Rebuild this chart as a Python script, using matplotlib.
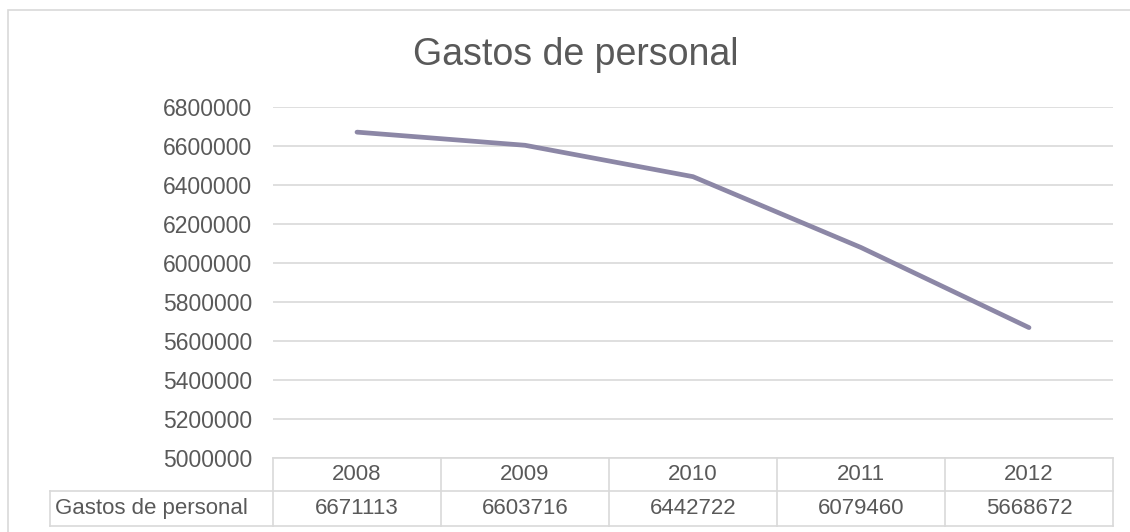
import matplotlib.pyplot as plt
from matplotlib.patches import Rectangle

plt.rcParams['font.family'] = ['Liberation Sans', 'DejaVu Sans']

# data
years = ["2008", "2009", "2010", "2011", "2012"]
gastos = [6671113, 6603716, 6442722, 6079460, 5668672]
serie = "Gastos de personal"
yticks = list(range(5000000, 6800001, 200000))

text_col = "#595959"
grid_col = "#D9D9D9"
line_col = "#8C87A6"

fig = plt.figure(figsize=(11.3, 5.32), dpi=100)

# outer chart border (cropped on right/bottom)
fig.patches.append(Rectangle((8 / 1130, -0.1), 1.2, 1 - 10 / 532 + 0.1,
                             transform=fig.transFigure, fill=False,
                             edgecolor=grid_col, linewidth=1.2))

ax = fig.add_axes([273 / 1130, 1 - 458 / 532, 840 / 1130, 351 / 532])

x = list(range(len(years)))
ax.plot(x, gastos, color=line_col, linewidth=3.4, solid_capstyle="round")

ax.set_xlim(-0.5, len(years) - 0.5)
ax.set_ylim(5000000, 6800000)
ax.set_yticks(yticks)
ax.set_yticklabels([str(v) for v in yticks])
ax.tick_params(axis="y", length=0, pad=15, labelsize=16.5, labelcolor=text_col)
ax.set_xticks([])
ax.grid(axis="y", color=grid_col, linewidth=1.2)
ax.set_axisbelow(True)
for s in ax.spines.values():
    s.set_visible(False)

fig.text(576 / 1130, 1 - 55 / 532, "Gastos de personal", ha="center", va="center",
         fontsize=27, color=text_col)

# data table below the plot
tr = ax.get_xaxis_transform()
y_top = 0.0
y_mid = -(491 - 458) / 351
y_bot = -(526 - 458) / 351
left = -0.5 - (273 - 50) / 168
right = len(years) - 0.5
kw = dict(color=grid_col, linewidth=1.2, transform=tr, clip_on=False)

ax.plot([-0.5, right], [y_top, y_top], **kw)
ax.plot([left, right], [y_mid, y_mid], **kw)
ax.plot([left, right], [y_bot, y_bot], **kw)
ax.plot([left, left], [y_mid, y_bot], **kw)
for i in range(len(years) + 1):
    ax.plot([i - 0.5, i - 0.5], [y_top, y_bot], **kw)

for i, (yr, v) in enumerate(zip(years, gastos)):
    ax.text(i, (y_top + y_mid) / 2, yr, ha="center", va="center", transform=tr,
            fontsize=16, color=text_col)
    ax.text(i, (y_mid + y_bot) / 2, str(v), ha="center", va="center", transform=tr,
            fontsize=16, color=text_col)
ax.text(left + 5 / 168, (y_mid + y_bot) / 2, serie, ha="left", va="center",
        transform=tr, fontsize=16, color=text_col)

fig.savefig("out.png", dpi=100)
